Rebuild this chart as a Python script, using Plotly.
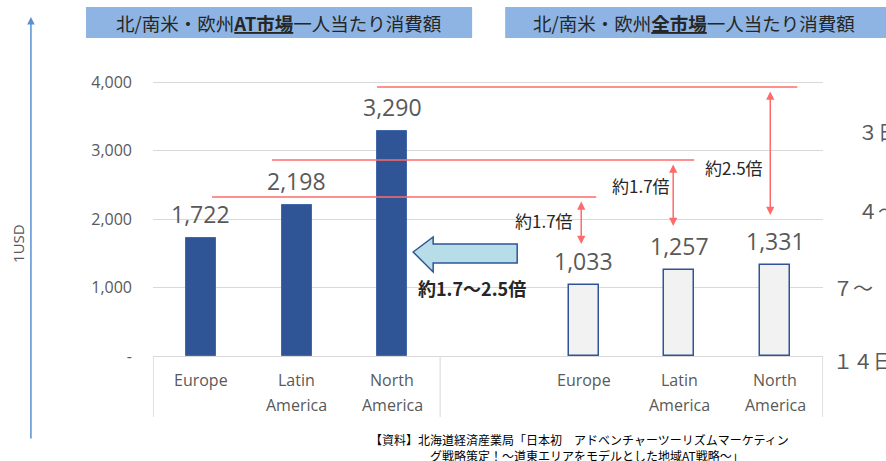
import plotly.graph_objects as go

# ---------------- data ----------------
categories = ["Europe", "Latin America", "North America"]
at_values = [1722, 2198, 3290]      # AT market per-capita spend (USD)
all_values = [1033, 1257, 1331]     # all-market per-capita spend (USD)
y_tick_vals = [0, 1000, 2000, 3000, 4000]
y_tick_text = ["-", "1,000", "2,000", "3,000", "4,000"]
title_left = "北/南米・欧州<b><u>AT市場</u></b>一人当たり消費額"
title_right = "北/南米・欧州<b><u>全市場</u></b>一人当たり消費額"
ratio_labels = ["約1.7倍", "約1.7倍", "約2.5倍"]
range_label = "約1.7〜2.5倍"
side_texts = ["３日", "４〜", "７〜", "１４日"]
source_lines = [
    "【資料】北海道経済産業局「日本初　アドベンチャーツーリズムマーケティン",
    "グ戦略策定！～道東エリアをモデルとした地域AT戦略～」",
]

GRAY = "#595959"
NUM_FONT = "Open Sans, Noto Sans CJK JP"
JP_FONT = "Noto Sans CJK JP"

x_left = [0, 1, 2]
x_right = [4, 5, 6]

fig = go.Figure()
fig.add_trace(go.Bar(
    x=x_left, y=at_values, width=0.314,
    marker=dict(color="#2F5597", line=dict(color="#4068AA", width=1)),
    showlegend=False, hoverinfo="y",
))
fig.add_trace(go.Bar(
    x=x_right, y=all_values, width=0.314,
    marker=dict(color="#F2F2F2", line=dict(color="#2F5597", width=1.5)),
    showlegend=False, hoverinfo="y",
))

YMIN, YMAX = -890.5, 4175.2

shapes = []
# category box lines
for xv in [-0.497, 2.5, 6.497]:
    shapes.append(dict(type="line", xref="x", yref="y", x0=xv, x1=xv, y0=0, y1=YMIN,
                       line=dict(color="#D9D9D9", width=1)))
# red reference lines
RED = "#FF6B6B"
for (xa, xb, yv) in [(1.841, 6.231, 3927), (0.744, 5.155, 2861), (0.117, 4.130, 2321)]:
    shapes.append(dict(type="line", xref="x", yref="y", x0=xa, x1=xb, y0=yv, y1=yv,
                       line=dict(color=RED, width=1.5)))
# big left arrow
shapes.append(dict(type="path", xref="x", yref="y",
                   path="M 2.218,1518 L 2.427,1737 L 2.427,1635 L 3.305,1635 L 3.305,1358 "
                        "L 2.427,1358 L 2.427,1226 Z",
                   fillcolor="#B7DEE8", line=dict(color="#2F5597", width=1.5)))
# title boxes
shapes.append(dict(type="rect", xref="paper", yref="paper", x0=-0.100, x1=0.4763,
                   y0=1.0922, y1=1.1816, fillcolor="#8DB4E2", line=dict(width=0), layer="below"))
shapes.append(dict(type="rect", xref="paper", yref="paper", x0=0.5256, x1=1.1,
                   y0=1.0922, y1=1.1816, fillcolor="#8DB4E2", line=dict(width=0), layer="below"))

ann = []
# value labels above bars
for xs, vals in ((x_left, at_values), (x_right, all_values)):
    for xv, v in zip(xs, vals):
        ann.append(dict(x=xv, y=v, xref="x", yref="y", text=f"{v:,}", showarrow=False,
                        xanchor="center", yanchor="middle", yshift=24,
                        font=dict(size=23, color=GRAY, family=NUM_FONT)))
# category labels
for i, c in enumerate(categories):
    words = c.split(" ")
    for xv in (x_left[i], x_right[i]):
        ann.append(dict(x=xv, y=-350, xref="x", yref="y", text=words[0], showarrow=False,
                        font=dict(size=16, color=GRAY, family=NUM_FONT),
                        xanchor="center", yanchor="middle"))
        if len(words) > 1:
            ann.append(dict(x=xv, y=-715, xref="x", yref="y", text=words[1], showarrow=False,
                            font=dict(size=16, color=GRAY, family=NUM_FONT),
                            xanchor="center", yanchor="middle"))
# double arrows
for (xv, y0, y1) in [(3.974, 2277, 1635), (4.935, 2818, 1898), (5.949, 3883, 2058)]:
    ann.append(dict(x=xv, y=y1, ax=xv, ay=y0, xref="x", yref="y", axref="x", ayref="y",
                    text="", showarrow=True, arrowside="end+start", arrowhead=2,
                    startarrowhead=2, arrowsize=1.1, startarrowsize=1.1, arrowwidth=1.5,
                    arrowcolor=RED))
for (lbl, xv, yv) in zip(ratio_labels, [3.586, 4.601, 5.573], [1971, 2482, 2759]):
    ann.append(dict(x=xv, y=yv, xref="x", yref="y", text=lbl, showarrow=False,
                    xanchor="center", yanchor="middle",
                    font=dict(size=17, color="#262626", family=JP_FONT)))
ann.append(dict(x=2.834, y=993, xref="x", yref="y", text=f"<b>{range_label}</b>", showarrow=False,
                xanchor="center", yanchor="middle",
                font=dict(size=18, color="#262626", family=JP_FONT)))
# titles
ann.append(dict(x=0.188, y=1.1354, xref="paper", yref="paper", text=title_left, showarrow=False,
                xanchor="center", yanchor="middle",
                font=dict(size=18.5, color="#262626", family=JP_FONT)))
ann.append(dict(x=0.8078, y=1.1354, xref="paper", yref="paper", text=title_right, showarrow=False,
                xanchor="center", yanchor="middle",
                font=dict(size=18.5, color="#262626", family=JP_FONT)))
# y title + blue axis arrow
ann.append(dict(x=-0.2016, y=0.5014, xref="paper", yref="paper", text="1USD", textangle=-90,
                xanchor="center", yanchor="middle",
                showarrow=False, font=dict(size=15, color=GRAY, family=NUM_FONT)))
ann.append(dict(x=-0.1822, y=1.1527, xref="paper", yref="paper", text="", showarrow=True,
                ax=0, ay=423, arrowhead=2, arrowsize=1, arrowwidth=1.5, arrowcolor="#5B8FD0"))
# right cut-off texts
for (t, xp, yp) in zip(side_texts, [1.0497, 1.0497, 1.0124, 1.0124], [0.8242, 0.5965, 0.3746, 0.1614]):
    ann.append(dict(x=xp, y=yp, xref="paper", yref="paper", text=t, showarrow=False,
                    xanchor="left", yanchor="middle",
                    font=dict(size=20, color=GRAY, family=JP_FONT)))
# source
for (t, xp, yp) in zip(source_lines, [0.321, 0.4106], [-0.064, -0.1115]):
    ann.append(dict(x=xp, y=yp, xref="paper", yref="paper", text=t, showarrow=False,
                    xanchor="left", yanchor="middle",
                    font=dict(size=12, color="#000000", family=JP_FONT)))

fig.update_layout(
    width=886, height=461,
    margin=dict(l=153, r=63.3, t=70, b=44, autoexpand=False),
    paper_bgcolor="white", plot_bgcolor="white",
    shapes=shapes, annotations=ann,
    xaxis=dict(range=[-0.5, 6.5], showticklabels=False, showgrid=False, zeroline=False,
               showline=False, ticks=""),
    yaxis=dict(range=[YMIN, YMAX], tickvals=y_tick_vals, ticktext=y_tick_text,
               showgrid=True, gridcolor="#D9D9D9", gridwidth=1,
               zeroline=True, zerolinecolor="#D9D9D9", zerolinewidth=1,
               showline=False, ticks="", ticklabelstandoff=20,
               tickfont=dict(size=16, color=GRAY, family=NUM_FONT)),
    bargap=0,
)

fig.write_html(
    "out.html",
    config={"displayModeBar": False},
    post_script=("document.documentElement.style.overflow='hidden';"
                 "document.body.style.margin='0';"
                 "document.body.style.overflow='hidden';"),
)
